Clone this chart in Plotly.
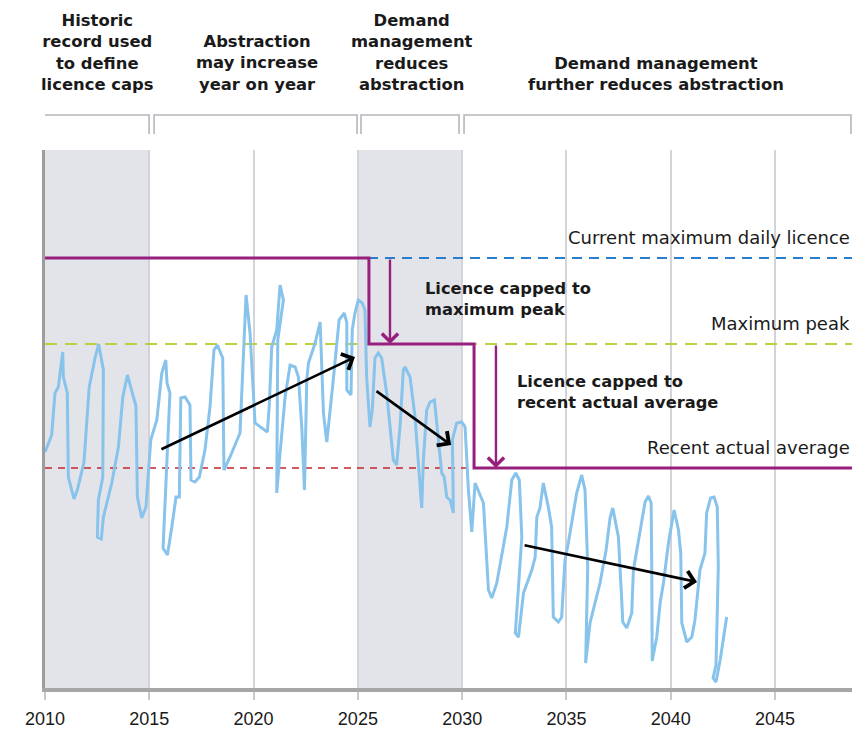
import plotly.graph_objects as go

# ---------------- data ----------------
# Abstraction (arbitrary units) traced year by year
abstraction_years = [
    2010.00, 2010.32, 2010.48, 2010.64, 2010.85, 2010.88, 2011.07, 2011.12, 2011.39, 2011.55,
    2011.87, 2012.12, 2012.40, 2012.57, 2012.80, 2012.77, 2012.56, 2012.51, 2012.70, 2012.80,
    2013.20, 2013.52, 2013.73, 2013.95, 2014.36, 2014.43, 2014.64, 2014.84, 2015.07, 2015.36,
    2015.60, 2015.79, 2015.85, 2015.99, 2015.66, 2015.87, 2016.08, 2016.28, 2016.44, 2016.51,
    2016.71, 2016.95, 2017.00, 2017.19, 2017.40, 2017.67, 2017.91, 2018.10, 2018.26, 2018.52,
    2018.58, 2018.87, 2019.35, 2019.48, 2019.64, 2019.83, 2020.07, 2020.66, 2020.75, 2020.87,
    2021.11, 2021.27, 2021.43, 2021.16, 2021.11, 2021.27, 2021.51, 2021.75, 2021.99, 2022.15,
    2022.31, 2022.44, 2022.55, 2022.63, 2022.95, 2023.19, 2023.35, 2023.51, 2023.67, 2023.82,
    2024.10, 2024.35, 2024.47, 2024.47, 2024.67, 2024.73, 2024.86, 2025.02, 2025.21, 2025.34,
    2025.42, 2025.58, 2025.69, 2025.82, 2025.98, 2026.14, 2026.38, 2026.70, 2026.86, 2027.02,
    2027.18, 2027.26, 2027.50, 2027.74, 2028.06, 2028.14, 2028.30, 2028.46, 2028.67, 2029.02,
    2029.14, 2029.26, 2029.42, 2029.58, 2029.53, 2029.74, 2029.98, 2030.14, 2030.30, 2030.46,
    2030.62, 2031.02, 2031.26, 2031.42, 2031.66, 2032.14, 2032.38, 2032.57, 2032.74, 2032.86,
    2032.55, 2032.70, 2032.94, 2033.34, 2033.50, 2033.58, 2033.73, 2033.89, 2034.13, 2034.29,
    2034.37, 2034.61, 2034.77, 2034.93, 2035.09, 2035.49, 2035.73, 2035.89, 2036.02, 2035.92,
    2036.13, 2036.61, 2036.90, 2037.09, 2037.22, 2037.49, 2037.65, 2037.70, 2037.89, 2038.13,
    2038.21, 2038.53, 2038.77, 2038.93, 2039.06, 2039.09, 2039.11, 2039.33, 2039.49, 2039.65,
    2039.89, 2040.16, 2040.37, 2040.48, 2040.53, 2040.77, 2041.01, 2041.16, 2041.40, 2041.64,
    2041.72, 2041.91, 2042.08, 2042.23, 2042.28, 2042.17, 2042.03, 2042.17, 2042.37, 2042.68,
]
abstraction_values = [
    236, 253, 295, 301, 336, 311, 295, 211, 189, 198,
    226, 301, 330, 344, 318, 211, 188, 151, 149, 171,
    205, 241, 291, 313, 282, 191, 170, 181, 248, 268,
    315, 328, 305, 295, 140, 133, 161, 191, 191, 290,
    291, 283, 208, 206, 211, 238, 281, 338, 343, 330,
    218, 231, 255, 318, 393, 355, 265, 256, 281, 341,
    358, 403, 388, 348, 195, 235, 291, 323, 321, 311,
    261, 198, 308, 325, 345, 366, 275, 246, 275, 308,
    368, 375, 365, 298, 293, 358, 375, 388, 385, 378,
    311, 261, 278, 330, 335, 330, 295, 228, 223, 261,
    318, 321, 311, 271, 180, 228, 278, 286, 288, 215,
    211, 191, 188, 175, 248, 265, 266, 261, 198, 156,
    205, 185, 98, 90, 105, 161, 208, 215, 208, 151,
    55, 51, 95, 118, 131, 171, 180, 205, 181, 161,
    71, 66, 71, 128, 145, 195, 213, 198, 121, 25,
    65, 105, 138, 170, 180, 151, 88, 66, 60, 75,
    118, 158, 186, 192, 185, 121, 27, 51, 85, 105,
    145, 178, 158, 135, 65, 46, 51, 68, 118, 135,
    175, 190, 191, 181, 121, 23, 10, 6, 28, 71,
]

x_start, x_end = 2010, 2048.69
y_top = 538

level_names = ["Current maximum daily licence", "Maximum peak", "Recent actual average"]
level_values = [430, 344, 220]
level_colors = ["#2a7dcc", "#bccf3c", "#c4262e"]
level_dashes = ["10px,7px", "12px,8px", "7px,6px"]
level_widths = [1.8, 2.2, 1.6]

licence_years = [2010, 2025.53, 2030.57, x_end]
licence_values = [430, 344, 220, 220]

cap_arrow_years = [2026.54, 2031.62]
cap_arrow_from = [430, 344]
cap_arrow_to = [344, 220]
cap_labels = ["Licence capped to<br>maximum peak", "Licence capped to<br>recent actual average"]
cap_label_years = [2028.12, 2032.53]
cap_label_values = [389, 296]

# trend arrows: (tail year, tail value, head year, head value)
trend_arrows = [
    (2015.51, 238, 2024.86, 331),
    (2025.82, 298, 2029.47, 243),
    (2032.92, 143, 2041.26, 106),
]

shaded_periods = [(2010, 2015), (2025, 2030)]

phase_spans = [(2009.95, 2014.99), (2015.23, 2024.96), (2025.15, 2029.85), (2030.09, 2048.64)]
phase_centers = [2012.5, 2020.15, 2027.6, 2039.3]
phase_labels = [
    "Historic<br>record used<br>to define<br>licence caps",
    "Abstraction<br>may increase<br>year on year",
    "Demand<br>management<br>reduces<br>abstraction",
    "Demand management<br>further reduces abstraction",
]

tick_years = [2010, 2015, 2020, 2025, 2030, 2035, 2040, 2045]

# ---------------- figure ----------------
FONT = "DejaVu Sans, Noto Sans, sans-serif"
TXT = "#1a1a1a"

fig = go.Figure()

for name, val, col, dash, w in zip(level_names, level_values, level_colors, level_dashes, level_widths):
    fig.add_trace(go.Scatter(x=[x_start, x_end], y=[val, val], mode="lines",
                             line=dict(color=col, width=w, dash=dash),
                             hoverinfo="skip", showlegend=False))

fig.add_trace(go.Scatter(x=abstraction_years, y=abstraction_values, mode="lines",
                         line=dict(color="#88c3ec", width=3), showlegend=False))

fig.add_trace(go.Scatter(x=licence_years, y=licence_values, mode="lines",
                         line=dict(color="#97207f", width=3, shape="hv"), showlegend=False))

shapes = []
for a, b in shaded_periods:
    shapes.append(dict(type="rect", xref="x", yref="paper", x0=a, x1=b, y0=0, y1=1,
                       fillcolor="#e3e4e9", line=dict(width=0), layer="below"))

yb_top, yb_bot = 1.065, 1.0297
for a, b in phase_spans:
    shapes.append(dict(type="path", xref="x", yref="paper",
                       path=f"M {a},{yb_bot} L {a},{yb_top} L {b},{yb_top} L {b},{yb_bot}",
                       line=dict(color="#b4b6bb", width=1.6)))

annotations = []
for name, val in zip(level_names, level_values):
    annotations.append(dict(x=1, xref="paper", y=val, yref="y", text=name,
                            xanchor="right", yanchor="bottom", yshift=8, showarrow=False,
                            font=dict(family=FONT, size=18, color=TXT)))

for yr, v0, v1 in zip(cap_arrow_years, cap_arrow_from, cap_arrow_to):
    annotations.append(dict(x=yr, y=v1, ax=yr, ay=v0, xref="x", yref="y", axref="x", ayref="y",
                            text="", showarrow=True, arrowhead=4, arrowsize=1.3,
                            arrowwidth=2.4, arrowcolor="#97207f", standoff=0))

for txt, yr, v in zip(cap_labels, cap_label_years, cap_label_values):
    annotations.append(dict(x=yr, y=v, xref="x", yref="y", text=f"<b>{txt}</b>",
                            xanchor="left", yanchor="middle", align="left", showarrow=False,
                            font=dict(family=FONT, size=16.3, color=TXT)))

for x0, y0, x1, y1 in trend_arrows:
    annotations.append(dict(x=x1, y=y1, ax=x0, ay=y0, xref="x", yref="y", axref="x", ayref="y",
                            text="", showarrow=True, arrowhead=4, arrowsize=1.3,
                            arrowwidth=2.6, arrowcolor="#000000", standoff=0))

for txt, c in zip(phase_labels, phase_centers):
    annotations.append(dict(x=c, y=1.1, xref="x", yref="paper", text=f"<b>{txt}</b>",
                            xanchor="center", yanchor="bottom", align="center", showarrow=False,
                            font=dict(family=FONT, size=16.4, color=TXT)))

fig.update_layout(
    width=858, height=723,
    margin=dict(l=37, r=14, t=142, b=43, autoexpand=False),
    paper_bgcolor="white", plot_bgcolor="white",
    shapes=shapes, annotations=annotations,
    showlegend=False,
    xaxis=dict(range=[x_start, x_end], tickvals=tick_years, ticktext=[str(t) for t in tick_years],
               showgrid=True, gridcolor="#d3d4d9", gridwidth=1.5,
               showline=True, linecolor="#a7a7a7", linewidth=4,
               ticks="outside", ticklen=8, tickcolor="#c9cace", tickwidth=1.5,
               ticklabelstandoff=3, automargin=False,
               tickfont=dict(family="Liberation Sans, Arial, sans-serif",
                             size=18, color=TXT),
               zeroline=False, fixedrange=True),
    yaxis=dict(range=[0, y_top], showgrid=False, showticklabels=False, ticks="",
               showline=True, linecolor="#9d9d9d", linewidth=3, zeroline=False, fixedrange=True,
               automargin=False),
)

fig.write_html("out.html")
